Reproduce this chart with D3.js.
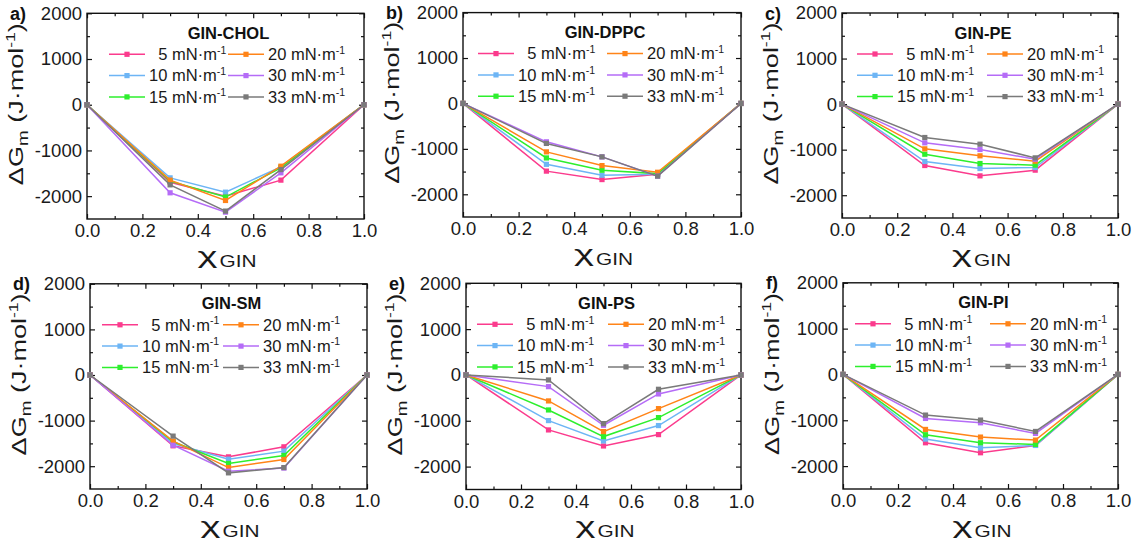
<!DOCTYPE html>
<html>
<head>
<meta charset="utf-8">
<script src="https://cdn.jsdelivr.net/npm/d3@7"></script>
<style>
  body { margin: 0; background: #fff; }
  svg { display: block; font-family: "Liberation Sans", Arial, sans-serif; }
</style>
</head>
<body>
<div id="chart"></div>
<script>
// mole fraction of GIN and surface pressures (mN/m)
const xGin = [0, 0.3, 0.5, 0.7, 1.0];
const pressures = ["5", "10", "15", "20", "30", "33"];
const panelLetters = ["a)", "b)", "c)", "d)", "e)", "f)"];
const panelNames = ["GIN-CHOL", "GIN-DPPC", "GIN-PE", "GIN-SM", "GIN-PS", "GIN-PI"];
const yTicks = [2000, 1000, 0, -1000, -2000];
const xTicks = [0, 0.2, 0.4, 0.6, 0.8, 1.0];

// rows = 5, 10, 15, 20, 30, 33 mN/m
const cholValues = [
    [0, -1695, -2000, -1650, 0],
    [0, -1600, -1913, -1360, 0],
    [0, -1673, -2020, -1380, 0],
    [0, -1650, -2095, -1345, 0],
    [0, -1927, -2350, -1490, 0],
    [0, -1753, -2327, -1418, 0]
];
const dppcValues = [
    [0, -1490, -1676, -1560, 0],
    [0, -1340, -1580, -1560, 0],
    [0, -1200, -1470, -1545, 0],
    [0, -1066, -1368, -1515, 0],
    [0, -845, -1176, -1600, 0],
    [0, -880, -1176, -1600, 0]
];
const peValues = [
    [0, -1348, -1575, -1450, 0],
    [0, -1260, -1414, -1392, 0],
    [0, -1100, -1304, -1340, 0],
    [0, -982, -1135, -1253, 0],
    [0, -850, -996, -1210, 0],
    [0, -733, -880, -1180, 0]
];
const smValues = [
    [0, -1553, -1795, -1575, 0],
    [0, -1502, -1846, -1670, 0],
    [0, -1465, -1941, -1765, 0],
    [0, -1450, -2030, -1853, 0],
    [0, -1540, -2110, -2040, 0],
    [0, -1340, -2146, -2030, 0]
];
const psValues = [
    [0, -1200, -1550, -1302, 0],
    [0, -996, -1440, -1105, 0],
    [0, -764, -1345, -931, 0],
    [0, -567, -1236, -735, 0],
    [0, -255, -1098, -415, 0],
    [0, -109, -1062, -313, 0]
];
const piValues = [
    [0, -1491, -1709, -1549, 0],
    [0, -1411, -1600, -1549, 0],
    [0, -1316, -1491, -1527, 0],
    [0, -1200, -1367, -1433, 0],
    [0, -960, -1055, -1287, 0],
    [0, -887, -996, -1244, 0]
];
const panelValues = [cholValues, dppcValues, peValues, smValues, psValues, piValues];

const colors = ["#fb3b8d", "#6db5f5", "#2def2d", "#ff8418", "#b56cf7", "#7a7a7a"];

// plot frames: [left, right, top, bottom] and legend column offsets
const frames = [
    [87, 364, 13.3, 219], [463, 741, 12.6, 217], [842, 1118, 13, 218],
    [90, 367, 283.8, 489], [466, 741, 283.3, 489.5], [843, 1118, 282.8, 489]
];
const legendCols = [[22, 141], [15, 144], [15, 145], [12, 133], [11, 142], [12, 147]];

const svg = d3.select("#chart").append("svg")
    .attr("width", 1140)
    .attr("height", 546);

panelValues.forEach(function (values, p) {
    const [left, right, top, bottom] = frames[p];
    const width = right - left, height = bottom - top;

    const x = d3.scaleLinear().domain([0, 1]).range([0, width]);
    const y = d3.scaleLinear().domain([-2500, 2000]).range([height, 0]);

    const g = svg.append("g").attr("transform", "translate(" + left + "," + top + ")");

    // ticks, inward on all four sides
    const xMinor = d3.range(0.1, 1, 0.2);
    const yMinor = [1500, 500, -500, -1500];
    function addAxis(axis, tx, ty, labels) {
        const a = g.append("g").attr("transform", "translate(" + tx + "," + ty + ")").call(axis);
        a.select(".domain").remove();
        a.selectAll("line").attr("stroke", "#111").attr("stroke-width", 1.2);
        if (!labels) a.selectAll("text").remove();
        else a.selectAll("text").attr("fill", "#1a1a1a").attr("font-size", "18.5px");
        return a;
    }
    addAxis(d3.axisBottom(x).tickValues(xTicks).tickSize(-5).tickPadding(5).tickFormat(d3.format(".1f")), 0, height, true);
    addAxis(d3.axisBottom(x).tickValues(xMinor).tickSize(-3), 0, height, false);
    addAxis(d3.axisTop(x).tickValues(xTicks).tickSize(-5), 0, 0, false);
    addAxis(d3.axisTop(x).tickValues(xMinor).tickSize(-3), 0, 0, false);
    addAxis(d3.axisLeft(y).tickValues(yTicks).tickSize(-5).tickPadding(5).tickFormat(function (d) { return String(d); }), 0, 0, true);
    addAxis(d3.axisLeft(y).tickValues(yMinor).tickSize(-3), 0, 0, false);
    addAxis(d3.axisRight(y).tickValues(yTicks).tickSize(-5), width, 0, false);
    addAxis(d3.axisRight(y).tickValues(yMinor).tickSize(-3), width, 0, false);

    g.append("rect")
        .attr("width", width).attr("height", height)
        .attr("fill", "none").attr("stroke", "#111").attr("stroke-width", 1.4);

    // series
    const line = d3.line()
        .x(function (d, i) { return x(xGin[i]); })
        .y(function (d) { return y(d); });
    values.forEach(function (row, s) {
        g.append("path")
            .datum(row)
            .attr("d", line)
            .attr("fill", "none")
            .attr("stroke", colors[s])
            .attr("stroke-width", 1.5);
        g.selectAll(null)
            .data(row)
            .enter().append("rect")
            .attr("x", function (d, i) { return x(xGin[i]) - 2.6; })
            .attr("y", function (d) { return y(d) - 2.6; })
            .attr("width", 5.2).attr("height", 5.2)
            .attr("fill", colors[s]);
    });

    // title and legend
    g.append("text")
        .attr("x", width / 2 + 3).attr("y", 25.5)
        .attr("text-anchor", "middle")
        .attr("font-weight", "bold").attr("font-size", "16.5px")
        .attr("fill", "#111")
        .text(panelNames[p]);

    pressures.forEach(function (pr, s) {
        const col = s < 3 ? 0 : 1;
        const row = s % 3;
        const lx = legendCols[p][col];
        const ly = 41 + row * 21.3;
        g.append("line")
            .attr("x1", lx).attr("x2", lx + 36)
            .attr("y1", ly).attr("y2", ly)
            .attr("stroke", colors[s]).attr("stroke-width", 1.5);
        g.append("rect")
            .attr("x", lx + 18 - 2.6).attr("y", ly - 2.6)
            .attr("width", 5.2).attr("height", 5.2)
            .attr("fill", colors[s]);
        const t = g.append("text")
            .attr("x", lx + 40).attr("y", ly + 5.8)
            .attr("font-size", "16.5px").attr("fill", "#1a1a1a");
        t.append("tspan").attr("dx", pr.length === 1 ? "0.56em" : 0).text(pr + " mN\u00b7m");
        t.append("tspan").attr("font-size", "10.5px").attr("dy", -6.5).text("-1");
    });

    // panel letter
    svg.append("text")
        .attr("x", left - 77).attr("y", top + 6.5)
        .attr("font-weight", "bold").attr("font-size", "18px")
        .attr("fill", "#111")
        .text(panelLetters[p]);

    // y axis title, stretched along its length like the original export
    const yt = g.append("text")
        .attr("transform", "translate(-64," + (height / 2 - 12) + ") rotate(-90)")
        .attr("text-anchor", "middle")
        .attr("font-size", "20px").attr("fill", "#1a1a1a")
        .attr("textLength", 162).attr("lengthAdjust", "spacingAndGlyphs");
    yt.append("tspan").text("\u0394G");
    yt.append("tspan").attr("font-size", "14px").attr("dy", 5).text("m");
    yt.append("tspan").attr("dy", -5).text(" (J\u00b7mol");
    yt.append("tspan").attr("font-size", "13px").attr("dy", -8).text("-1");
    yt.append("tspan").attr("dy", 8).text(")");

    // x axis title
    g.append("text")
        .attr("x", width / 2 - 8).attr("y", height + 44)
        .attr("text-anchor", "end")
        .attr("font-size", "22px").attr("fill", "#1a1a1a")
        .attr("textLength", 20).attr("lengthAdjust", "spacingAndGlyphs")
        .text("\u03c7");
    g.append("text")
        .attr("x", width / 2 - 6).attr("y", height + 48)
        .attr("font-size", "17px").attr("fill", "#1a1a1a")
        .attr("textLength", 37).attr("lengthAdjust", "spacingAndGlyphs")
        .text("GIN");
});
</script>
</body>
</html>
